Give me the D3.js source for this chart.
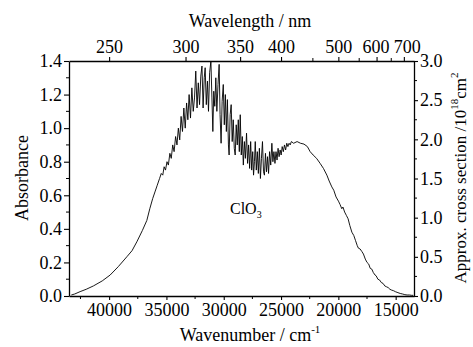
<!DOCTYPE html>
<html>
<head>
<meta charset="utf-8">
<script src="https://cdn.jsdelivr.net/npm/d3@7"></script>
<style>
  body { margin: 0; background: #fff; }
</style>
</head>
<body>
<div id="chart"></div>
<script>
// ClO3 absorption spectrum
var wavenumber = [
  43300, 43000, 42530, 42000, 41370, 40600, 39910, 39200, 38450, 38000,
  37580, 37100, 36710, 36450, 36200, 36000, 35800,
  35600, 35450, 35320, 35200, 35080, 34950, 34830, 34700, 34580, 34450,
  34330, 34200, 34080, 33960, 33840, 33720, 33600, 33480, 33360, 33240,
  33130, 33020, 32900, 32780, 32660, 32550, 32440, 32330, 32220, 32110,
  32000, 31900, 31800, 31700, 31620, 31520, 31420, 31330, 31230, 31120,
  31030, 30950, 30870, 30780, 30690, 30600, 30500, 30400, 30320, 30230,
  30140, 30040, 29950, 29860, 29770, 29680, 29590, 29530, 29440, 29350,
  29260, 29170, 29080, 29000, 28910, 28820, 28730, 28640, 28560, 28470,
  28380, 28290, 28200, 28110, 28010, 27920, 27830, 27740, 27650, 27560,
  27470, 27400, 27320, 27250, 27160, 27070, 26980, 26890, 26800, 26710,
  26620, 26530, 26450, 26360, 26270, 26180, 26090, 26000, 25900, 25800,
  25710, 25620, 25530, 25440, 25350, 25260, 25170, 25080, 24990, 24900,
  24800, 24700, 24600, 24500, 24400, 24300, 24200, 24100,
  23900, 23600, 23300, 23000, 22700, 22460, 22200, 21900, 21590, 21300,
  21000, 20800, 20570, 20400, 20200, 19990, 19850, 19700, 19600, 19450,
  19300, 19150, 19000, 18820, 18650, 18500, 18350, 18250, 18100, 17950,
  17810, 17650, 17500, 17350, 17220, 17080, 16950, 16800, 16700, 16550,
  16400, 16250, 16100, 15950, 15800, 15650, 15500, 15350, 15200, 15000,
  14800, 14600, 14400, 14200, 14000, 13800, 13600, 13470
];
var absorbance = [
  0.006, 0.012, 0.026, 0.040, 0.060, 0.090, 0.125, 0.175, 0.234, 0.270,
  0.323, 0.390, 0.450, 0.520, 0.580, 0.620, 0.660,
  0.700, 0.730, 0.720, 0.770, 0.750, 0.800, 0.780, 0.850, 0.820, 0.900,
  0.860, 0.950, 0.900, 1.000, 0.930, 1.070, 0.980, 1.120, 1.000, 1.150,
  1.050, 1.200, 1.060, 1.240, 1.100, 1.180, 1.340, 1.120, 1.270, 1.140,
  1.310, 1.370, 1.120, 1.300, 1.360, 1.140, 1.280, 1.100, 1.330, 1.400,
  1.180, 0.980, 1.220, 1.130, 1.300, 1.100, 1.260, 1.380, 1.080, 0.910,
  1.160, 1.260, 1.020, 1.200, 0.980, 1.170, 0.900, 0.840, 1.080, 1.140,
  0.920, 1.050, 0.880, 0.840, 1.020, 0.900, 1.050, 0.860, 1.080, 0.840,
  0.950, 0.780, 0.920, 0.820, 0.970, 0.790, 0.900, 0.760, 0.920, 0.750,
  0.860, 0.720, 0.800, 0.920, 0.750, 0.860, 0.730, 0.880, 0.700, 0.820,
  0.920, 0.740, 0.720, 0.850, 0.740, 0.830, 0.730, 0.860, 0.780, 0.910,
  0.800, 0.860, 0.790, 0.860, 0.810, 0.880, 0.830, 0.870, 0.840, 0.890,
  0.860, 0.900, 0.870, 0.910, 0.890, 0.910, 0.900, 0.920,
  0.910, 0.920, 0.910, 0.905, 0.890, 0.860, 0.840, 0.820, 0.790, 0.760,
  0.720, 0.685, 0.650, 0.630, 0.590, 0.565, 0.545, 0.520, 0.530, 0.500,
  0.480, 0.460, 0.420, 0.380, 0.360, 0.330, 0.300, 0.285, 0.280, 0.265,
  0.250, 0.220, 0.200, 0.190, 0.165, 0.160, 0.140, 0.125, 0.120, 0.100,
  0.095, 0.080, 0.075, 0.060, 0.055, 0.050, 0.040, 0.035, 0.032, 0.025,
  0.020, 0.015, 0.012, 0.008, 0.006, 0.006, 0.004, 0.004
];

var bottomTicks = [40000, 35000, 30000, 25000, 20000, 15000];
var bottomMinor = [42500, 37500, 32500, 27500, 22500, 17500];
var topTicks = [250, 300, 350, 400, 500, 600, 700];   // nm
var topMinor = [450, 550, 650];
var leftTicks = [0, 0.2, 0.4, 0.6, 0.8, 1.0, 1.2, 1.4];
var rightTicks = [0, 0.5, 1.0, 1.5, 2.0, 2.5, 3.0];

var width = 473, height = 347;
var mLeft = 69, mRight = 414, mTop = 61, mBottom = 296;
var serif = '"Liberation Serif", "DejaVu Serif", serif';

var svg = d3.select("#chart")
  .append("svg")
    .attr("width", width)
    .attr("height", height)
    .attr("font-family", serif);

var x = d3.scaleLinear().domain([43500, 13400]).range([mLeft, mRight]);
var y = d3.scaleLinear().domain([0, 1.4]).range([mBottom, mTop]);
var y2 = d3.scaleLinear().domain([0, 3.0]).range([mBottom, mTop]);

// the spectrum
var pts = wavenumber.map(function(w, i) { return [w, absorbance[i]]; });
svg.append("path")
  .datum(pts)
  .attr("fill", "none")
  .attr("stroke", "#000")
  .attr("stroke-width", 0.9)
  .attr("d", d3.line().x(function(d) { return x(d[0]); }).y(function(d) { return y(d[1]); }));

// axes
function styleAxis(g) {
  g.attr("font-family", serif).attr("font-size", 18);
  g.select(".domain").attr("stroke", "#000").attr("stroke-width", 1.3);
  g.selectAll(".tick line").attr("stroke", "#000").attr("stroke-width", 1.1);
  g.selectAll("text").attr("font-family", serif).attr("font-size", 18).attr("fill", "#000");
}

var xb = svg.append("g")
  .attr("transform", "translate(0," + mBottom + ")")
  .call(d3.axisBottom(x).tickValues(bottomTicks).tickFormat(d3.format("d")).tickSize(4).tickSizeOuter(0).tickPadding(3));
styleAxis(xb);
xb.selectAll(".minor").data(bottomMinor).enter().append("line")
  .attr("x1", function(d) { return x(d); }).attr("x2", function(d) { return x(d); })
  .attr("y1", 0).attr("y2", 3).attr("stroke", "#000");

var xt = svg.append("g")
  .attr("transform", "translate(0," + mTop + ")")
  .call(d3.axisTop(x).tickValues(topTicks.map(function(n) { return 1e7 / n; }))
    .tickFormat(function(d) { return Math.round(1e7 / d); }).tickSize(4).tickSizeOuter(0).tickPadding(4));
styleAxis(xt);
// the last two labels sit a little apart in the original
xt.selectAll(".tick text").attr("dx", function(d) {
  var nm = Math.round(1e7 / d);
  return nm === 700 ? 3 : (nm === 600 ? -1 : 0);
});
xt.selectAll(".minor").data(topMinor).enter().append("line")
  .attr("x1", function(d) { return x(1e7 / d); }).attr("x2", function(d) { return x(1e7 / d); })
  .attr("y1", 0).attr("y2", -3).attr("stroke", "#000");

var yl = svg.append("g")
  .attr("transform", "translate(" + mLeft + ",0)")
  .call(d3.axisLeft(y).tickValues(leftTicks).tickFormat(d3.format(".1f")).tickSize(5).tickSizeOuter(0).tickPadding(2));
styleAxis(yl);
yl.selectAll(".minor").data(d3.range(0.1, 1.4, 0.2)).enter().append("line")
  .attr("y1", function(d) { return y(d); }).attr("y2", function(d) { return y(d); })
  .attr("x1", 0).attr("x2", -3).attr("stroke", "#000");

var yr = svg.append("g")
  .attr("transform", "translate(" + mRight + ",0)")
  .call(d3.axisRight(y2).tickValues(rightTicks).tickFormat(d3.format(".1f")).tickSize(4).tickSizeOuter(0).tickPadding(2));
styleAxis(yr);
yr.selectAll(".minor").data(d3.range(0.25, 3.0, 0.5)).enter().append("line")
  .attr("y1", function(d) { return y2(d); }).attr("y2", function(d) { return y2(d); })
  .attr("x1", 0).attr("x2", 3).attr("stroke", "#000");

// titles
svg.append("text")
  .attr("x", 250).attr("y", 27)
  .attr("text-anchor", "middle")
  .attr("font-size", 18)
  .text("Wavelength / nm");

var xlab = svg.append("text")
  .attr("x", 250).attr("y", 341)
  .attr("text-anchor", "middle")
  .attr("font-size", 18)
  .text("Wavenumber / cm");
xlab.append("tspan").attr("dy", -8).attr("font-size", 11).text("-1");

svg.append("text")
  .attr("transform", "translate(28,178) rotate(-90)")
  .attr("text-anchor", "middle")
  .attr("font-size", 18)
  .text("Absorbance");

var rlab = svg.append("text")
  .attr("transform", "translate(466,178) rotate(-90)")
  .attr("text-anchor", "middle")
  .attr("font-size", 17)
  .text("Approx. cross section /10");
rlab.append("tspan").attr("dy", -8).attr("font-size", 11).text("18");
rlab.append("tspan").attr("dy", 8).text("cm");
rlab.append("tspan").attr("dy", -8).attr("font-size", 11).text("2");

var species = svg.append("text")
  .attr("x", 230).attr("y", 214)
  .attr("font-size", 16)
  .text("ClO");
species.append("tspan").attr("dy", 4).attr("font-size", 10).text("3");
</script>
</body>
</html>
